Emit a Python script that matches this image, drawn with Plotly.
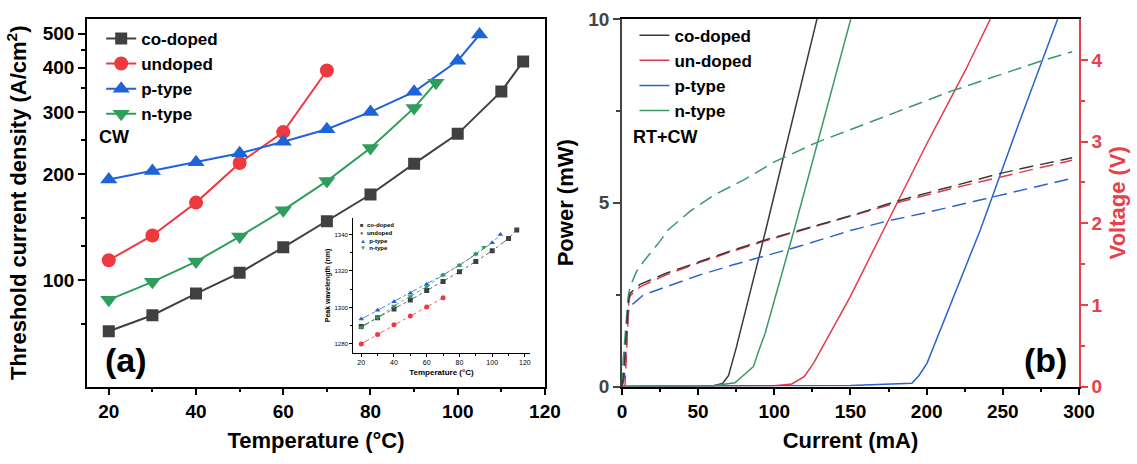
import math
import plotly.graph_objects as go

# ---------------- data: panel (a) threshold current density ----------------
T_co = [20, 30, 40, 50, 60, 70, 80, 90, 100, 110, 115]
J_co = [71.7, 79.6, 91.7, 105, 124, 147, 175, 214, 260, 343, 417]
T_un = [20, 30, 40, 50, 60, 70]
J_un = [114, 134, 166, 215, 263, 393]
T_p = [20, 30, 40, 50, 60, 70, 80, 90, 100, 105]
J_p = [193, 204, 216, 229, 247, 268, 300, 342, 419, 497]
T_n = [20, 30, 40, 50, 60, 70, 80, 90, 95]
J_n = [88, 99, 113, 133, 158, 191, 237, 308, 363]

# ---------------- data: inset peak wavelength ----------------
iT_co = [20, 30, 40, 50, 60, 70, 80, 90, 100, 110, 115]
iW_co = [1289.5, 1294.3, 1299.1, 1304.1, 1309.2, 1314.2, 1319.5, 1325.2, 1331.0, 1337.8, 1342.4]
iT_un = [20, 30, 40, 50, 60, 70]
iW_un = [1280.0, 1285.2, 1290.5, 1295.3, 1300.2, 1305.3]
iT_p = [20, 30, 40, 50, 60, 70, 80, 90, 100, 105]
iW_p = [1293.6, 1298.4, 1303.1, 1307.8, 1312.7, 1317.8, 1323.0, 1329.2, 1335.4, 1340.0]
iT_n = [20, 30, 40, 50, 60, 70, 80, 90, 95]
iW_n = [1289.0, 1294.3, 1300.8, 1306.0, 1311.4, 1317.8, 1323.2, 1329.2, 1333.0]

# ---------------- data: panel (b) L-I-V ----------------
I_co_P = [0, 60, 66, 70, 75, 94.4, 128]
P_co = [0, 0.02, 0.08, 0.3, 1.05, 4.26, 10]
I_un_P = [0, 100, 111.5, 119.6, 125.7, 149.8, 171.7, 200, 225.4, 241.8]
P_un = [0, 0.02, 0.07, 0.27, 0.63, 2.44, 4.26, 6.6, 8.6, 10]
I_p_P = [0, 150, 190.3, 195, 200.2, 213.3, 235.2, 260, 286]
P_p = [0, 0.03, 0.09, 0.3, 0.63, 1.99, 4.26, 7.1, 10]
I_n_P = [0, 40, 60, 74.2, 80, 86.3, 89.6, 94, 103.8, 113, 150.2]
P_n = [0, 0.01, 0.02, 0.1, 0.3, 0.54, 0.95, 1.45, 2.9, 4.26, 10]

I_co_V = [0, 1, 4, 5.3, 11.8, 29.4, 51.2, 73.1, 95.1, 113.7, 150, 180.5, 220, 248.4, 270, 295.5]
V_co = [0, 0.1, 1.0, 1.14, 1.25, 1.39, 1.53, 1.67, 1.80, 1.90, 2.09, 2.27, 2.47, 2.61, 2.70, 2.80]
I_un_V = [0, 2, 4.5, 5.3, 11.8, 29.4, 51.2, 73.1, 95.1, 113.7, 150, 180.5, 220, 248.4, 270, 295.5]
V_un = [0, 0.0, 1.05, 1.11, 1.22, 1.37, 1.52, 1.66, 1.79, 1.89, 2.08, 2.25, 2.44, 2.57, 2.66, 2.77]
I_p_V = [0, 1.5, 4.5, 5.3, 14, 29.4, 50, 73.1, 100, 117, 150, 172.8, 200, 242.8, 270, 295.5]
V_p = [0, 0.1, 0.95, 0.98, 1.12, 1.22, 1.36, 1.49, 1.63, 1.72, 1.91, 2.02, 2.13, 2.32, 2.44, 2.55]
I_n_V = [0, 0.5, 4.1, 5.3, 9.6, 15, 25, 30.4, 45, 60, 80, 100, 128, 150, 180, 216.6, 250, 275.8, 295.5]
V_n = [0, 0.25, 1.10, 1.22, 1.41, 1.55, 1.78, 1.92, 2.15, 2.34, 2.53, 2.75, 2.99, 3.15, 3.36, 3.62, 3.83, 3.99, 4.10]

names_a = ["co-doped", "undoped", "p-type", "n-type"]
names_b = ["co-doped", "un-doped", "p-type", "n-type"]

# ---------------- styles ----------------
F = "Liberation Sans"
C_CO, C_UN, C_P, C_N = "#404040", "#ee3a3e", "#1f63d8", "#2e9e5c"
R_CO, R_UN, R_P, R_N = "#3a3a3a", "#e03a4c", "#2b62cc", "#3a9a66"
VRED = "#e8404a"

fig = go.Figure()

# panel (a)
for T, J, nm, col, sym, sz in [
    (T_co, J_co, names_a[0], C_CO, "square", 12),
    (T_un, J_un, names_a[1], C_UN, "circle", 14),
    (T_p, J_p, names_a[2], C_P, "triangle-up", 15),
    (T_n, J_n, names_a[3], C_N, "triangle-down", 15),
]:
    fig.add_trace(go.Scatter(x=T, y=J, name=nm, mode="lines+markers",
                             line=dict(color=col, width=2),
                             marker=dict(symbol=sym, size=sz, color=col),
                             xaxis="x", yaxis="y", legend="legend"))

# inset
inset_legend = []
for i, (T, W, nm, col, sym, glyph) in enumerate([
    (iT_co, iW_co, names_a[0], C_CO, "square", "■"),
    (iT_un, iW_un, names_a[1], C_UN, "circle", "●"),
    (iT_p, iW_p, names_a[2], C_P, "triangle-up", "▲"),
    (iT_n, iW_n, names_a[3], C_N, "triangle-down", "▼"),
]):
    fig.add_trace(go.Scatter(x=T, y=W, mode="lines", showlegend=False,
                             line=dict(color=col, width=0.8, dash="dashdot"),
                             xaxis="x3", yaxis="y4"))
    fig.add_trace(go.Scatter(x=T, y=W, name=nm, mode="markers", showlegend=False,
                             marker=dict(symbol=sym, size=5, color=col),
                             xaxis="x3", yaxis="y4"))
    inset_legend.append(dict(
        text=f"<span style='color:{col}'>{glyph}</span>  {nm}",
        x=358 / 1137, y=1 - (225 + 7.8 * i) / 464, xref="paper", yref="paper",
        xanchor="left", yanchor="middle", showarrow=False,
        font=dict(family=F, size=6, color="black", weight="bold")))

# panel (b) voltage (dashed)
for I, V, col in [(I_n_V, V_n, R_N), (I_p_V, V_p, R_P), (I_un_V, V_un, R_UN), (I_co_V, V_co, R_CO)]:
    fig.add_trace(go.Scatter(x=I, y=V, mode="lines", showlegend=False,
                             line=dict(color=col, width=1.5, dash="14px,7px"),
                             xaxis="x2", yaxis="y3"))
# panel (b) power (solid)
for I, P, nm, col in [(I_co_P, P_co, names_b[0], R_CO), (I_un_P, P_un, names_b[1], R_UN),
                      (I_p_P, P_p, names_b[2], R_P), (I_n_P, P_n, names_b[3], R_N)]:
    fig.add_trace(go.Scatter(x=I, y=P, name=nm, mode="lines",
                             line=dict(color=col, width=1.5),
                             xaxis="x2", yaxis="y2", legend="legend2"))

tickf = dict(family=F, size=19, color="black", weight="bold")
titf = dict(family=F, size=22, color="black", weight="bold")
common = dict(showgrid=False, zeroline=False, showline=True, linewidth=1.5,
              ticks="outside", ticklen=7, tickwidth=1.5, automargin=False)

YD = [0.167, 0.959]

fig.update_layout(
    width=1137, height=464,
    margin=dict(l=0, r=0, t=0, b=0),
    paper_bgcolor="white", plot_bgcolor="white",
    xaxis=dict(**common, domain=[0.0765, 0.4793], range=[15, 120], anchor="y",
               linecolor="black", tickcolor="black", mirror=True,
               tickvals=[20, 40, 60, 80, 100, 120], tickfont=tickf,
               minor=dict(tickvals=[30, 50, 70, 90, 110], ticklen=4, tickwidth=1.5, ticks="outside", tickcolor="black"),
               title=dict(text="Temperature (°C)", font=titf, standoff=12)),
    yaxis=dict(**common, domain=YD, type="log", range=[math.log10(50), math.log10(550)], anchor="x",
               linecolor="black", tickcolor="black", mirror=True,
               tickvals=[100, 200, 300, 400, 500], ticktext=["100", "200", "300", "400", "500"], tickfont=tickf,
               minor=dict(tickvals=[75, 125, 150, 250, 350, 450], ticklen=4, tickwidth=1.5, ticks="outside", tickcolor="black"),
               title=dict(text="Threshold current density (A/cm<sup>2</sup>)", font=titf, standoff=10)),
    xaxis2=dict(**common, domain=[0.547, 0.949], range=[0, 300], anchor="y2",
                linecolor="black", tickcolor="black", mirror=True,
                tickvals=[0, 50, 100, 150, 200, 250, 300], tickfont=tickf,
                minor=dict(tickvals=[25, 75, 125, 175, 225, 275], ticklen=4, tickwidth=1.5, ticks="outside", tickcolor="black"),
                title=dict(text="Current (mA)", font=titf, standoff=12)),
    yaxis2=dict(**common, domain=YD, range=[0, 10], anchor="x2",
                linecolor="#444444", tickcolor="#444444",
                tickvals=[0, 5, 10], tickfont=dict(family=F, size=19, color="#444444", weight="bold"),
                minor=dict(tickvals=[2.5, 7.5], ticklen=4, tickwidth=1.5, ticks="outside", tickcolor="#444444"),
                title=dict(text="Power (mW)", font=titf, standoff=9)),
    yaxis3=dict(**common, domain=YD, range=[0, 4.5], anchor="x2", overlaying="y2", side="right",
                linecolor=VRED, tickcolor=VRED,
                tickvals=[0, 1, 2, 3, 4], tickfont=dict(family=F, size=19, color=VRED, weight="bold"),
                minor=dict(tickvals=[0.5, 1.5, 2.5, 3.5], ticklen=4, tickwidth=1.5, ticks="outside", tickcolor=VRED),
                title=dict(text="Voltage (V)", font=dict(family=F, size=22, color=VRED, weight="bold"), standoff=8)),
    xaxis3=dict(showgrid=False, zeroline=False, showline=True, linewidth=1, linecolor="black",
                ticks="outside", ticklen=3, tickwidth=1, tickcolor="black", automargin=False,
                domain=[0.3105, 0.466], range=[15, 123], anchor="y4",
                tickvals=[20, 40, 60, 80, 100, 120], tickfont=dict(family=F, size=7, color="black"),
                minor=dict(tickvals=[30, 50, 70, 90, 110], ticklen=2, ticks="outside", tickcolor="black"),
                title=dict(text="Temperature (°C)", font=dict(family=F, size=8, color="black", weight="bold"), standoff=3)),
    yaxis4=dict(showgrid=False, zeroline=False, showline=True, linewidth=1, linecolor="black",
                ticks="outside", ticklen=3, tickwidth=1, tickcolor="black", automargin=False,
                domain=[0.2392, 0.5302], range=[1275, 1349], anchor="x3",
                tickvals=[1280, 1300, 1320, 1340], tickfont=dict(family=F, size=6, color="black"),
                minor=dict(tickvals=[1290, 1310, 1330], ticklen=2, ticks="outside", tickcolor="black"),
                title=dict(text="Peak wavelength (nm)", font=dict(family=F, size=7, color="black", weight="bold"), standoff=3)),
    legend=dict(x=0.089, y=0.955, xanchor="left", yanchor="top", bgcolor="rgba(0,0,0,0)",
                font=dict(family=F, size=17, color="black", weight="bold"), tracegroupgap=0,
                itemsizing="trace"),
    legend2=dict(x=0.558, y=0.962, xanchor="left", yanchor="top", bgcolor="rgba(0,0,0,0)",
                 font=dict(family=F, size=17, color="black", weight="bold"), tracegroupgap=0),
    annotations=[
        dict(text="CW", x=97 / 1137, y=1 - 137 / 464, xref="paper", yref="paper", xanchor="left",
             yanchor="middle", showarrow=False, font=dict(family=F, size=18, color="black", weight="bold")),
        dict(text="(a)", x=126 / 1137, y=1 - 360 / 464, xref="paper", yref="paper", xanchor="center",
             yanchor="middle", showarrow=False, font=dict(family=F, size=34, color="black", weight="bold")),
        dict(text="(b)", x=1045 / 1137, y=1 - 360 / 464, xref="paper", yref="paper", xanchor="center",
             yanchor="middle", showarrow=False, font=dict(family=F, size=34, color="black", weight="bold")),
        dict(text="RT+CW", x=631 / 1137, y=1 - 137 / 464, xref="paper", yref="paper", xanchor="left",
             yanchor="middle", showarrow=False, font=dict(family=F, size=18, color="black", weight="bold")),
    ] + inset_legend,
)

fig.write_html("out.html", config={"displayModeBar": False},
               post_script="document.body.style.margin='0px';")
